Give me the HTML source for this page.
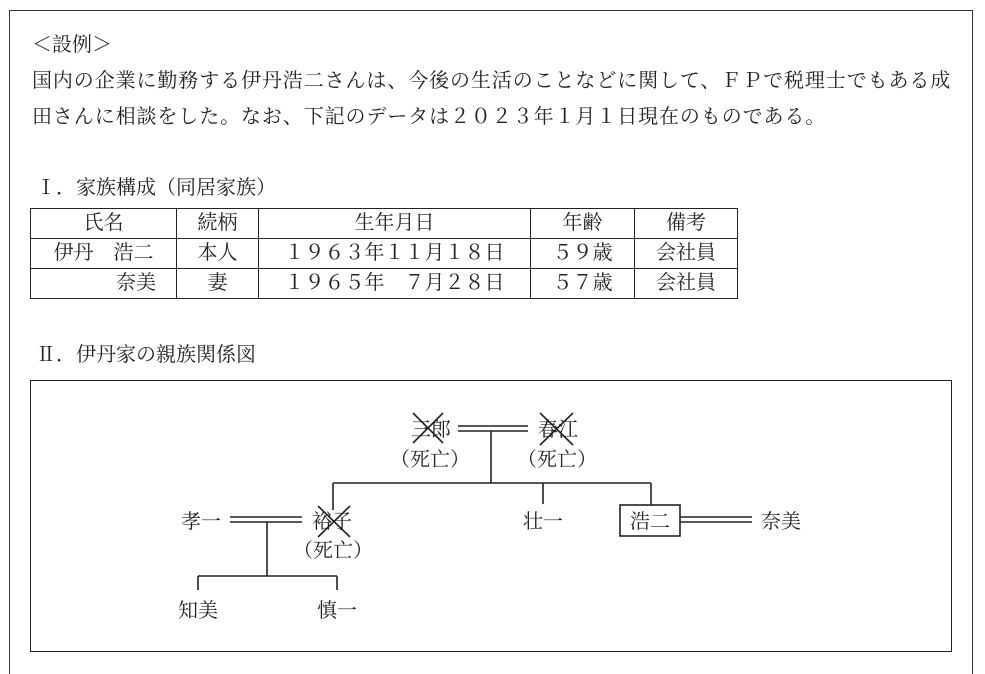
<!DOCTYPE html>
<html style="margin:0;height:674px;overflow:hidden"><head><meta charset="utf-8"><style>
body{margin:0;background:#fff;width:985px;height:674px;overflow:hidden;position:relative;font-family:"Liberation Serif","Noto Serif CJK SC",serif;color:#222}
.a{position:absolute;white-space:nowrap;font-size:20px;line-height:24px}
table{position:absolute;left:30px;top:208px;border-collapse:collapse;font-size:20px}
td{border:1.5px solid #222;height:29px;padding:0;text-align:center;line-height:29px}
</style></head><body>
<div style="position:absolute;left:9px;top:10px;width:964px;height:664px;border:1.5px solid #333;border-bottom:none;box-sizing:border-box"></div>
<div class="a" style="left:32px;top:33px">＜設例＞</div>
<div class="a" style="left:32px;top:69px;letter-spacing:0.9px">国内の企業に勤務する伊丹浩二さんは、今後の生活のことなどに関して、ＦＰで税理士でもある成</div>
<div class="a" style="left:32px;top:105px;letter-spacing:0.9px">田さんに相談をした。なお、下記のデータは２０２３年１月１日現在のものである。</div>
<div class="a" style="left:36px;top:176px">Ⅰ．家族構成（同居家族）</div>
<table>
<tr><td style="width:145px">氏名</td><td style="width:81px">続柄</td><td style="width:271px">生年月日</td><td style="width:103px">年齢</td><td style="width:102px">備考</td></tr>
<tr><td>伊丹　浩二</td><td>本人</td><td>１９６３年１１月１８日</td><td>５９歳</td><td>会社員</td></tr>
<tr><td style="text-align:right;padding-right:20px">奈美</td><td>妻</td><td>１９６５年　７月２８日</td><td>５７歳</td><td>会社員</td></tr>
</table>
<div class="a" style="left:36px;top:343px">Ⅱ．伊丹家の親族関係図</div>
<div style="position:absolute;left:30px;top:380px;width:920px;height:270px;border:1.5px solid #222"></div>
<svg style="position:absolute;left:0;top:0" width="985" height="674">
<g stroke="#222" stroke-width="1.6" fill="none">
<line x1="458" y1="426" x2="528" y2="426"/><line x1="458" y1="431" x2="528" y2="431"/>
<line x1="491" y1="431" x2="491" y2="483"/>
<line x1="333" y1="483" x2="651" y2="483"/>
<line x1="333" y1="483" x2="333" y2="510"/>
<line x1="543" y1="483" x2="543" y2="504"/>
<line x1="651" y1="483" x2="651" y2="505"/>
<line x1="230" y1="517" x2="302" y2="517"/><line x1="230" y1="522" x2="302" y2="522"/>
<line x1="267" y1="522" x2="267" y2="576"/>
<line x1="198" y1="576" x2="337" y2="576"/>
<line x1="198" y1="576" x2="198" y2="590"/><line x1="337" y1="576" x2="337" y2="590"/>
<rect x="620" y="505" width="60" height="31"/>
<line x1="680" y1="517" x2="752" y2="517"/><line x1="680" y1="522" x2="752" y2="522"/>
<line x1="413" y1="413" x2="443" y2="443"/><line x1="443" y1="413" x2="413" y2="443"/>
<line x1="540" y1="413" x2="573" y2="445"/><line x1="573" y1="413" x2="540" y2="445"/>
<line x1="318" y1="506" x2="350" y2="537"/><line x1="350" y1="506" x2="318" y2="537"/>
</g>
<g font-family="Liberation Serif, Noto Serif CJK SC, serif" font-size="20" fill="#222" text-anchor="middle">
<text x="431" y="436">三郎</text><text x="558" y="436">春江</text>
<text x="430" y="466">（死亡）</text><text x="557" y="466">（死亡）</text>
<text x="201" y="528">孝一</text><text x="332" y="528">裕子</text><text x="333" y="557">（死亡）</text>
<text x="543" y="528">壮一</text><text x="650" y="528">浩二</text><text x="781" y="528">奈美</text>
<text x="198" y="617">知美</text><text x="337" y="617">慎一</text>
</g></svg>
</body></html>
